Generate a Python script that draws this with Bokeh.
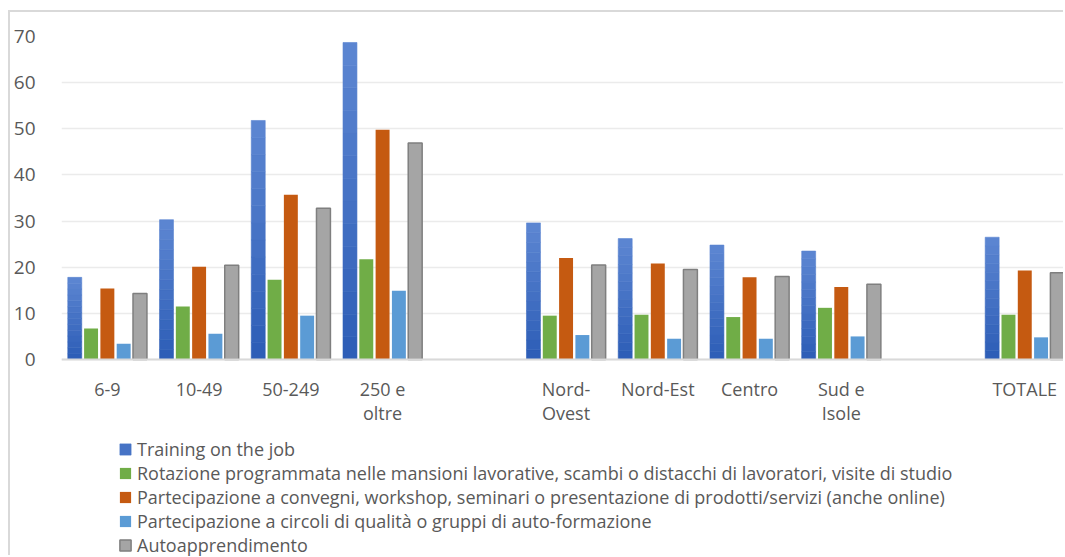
from bokeh.plotting import figure
from bokeh.models import Range1d, FixedTicker, Legend, LegendItem, ColumnDataSource, LinearAxis
from bokeh.embed import file_html
from bokeh.resources import INLINE

categories = ["6-9", "10-49", "50-249", "250 e\noltre", "", "Nord-\nOvest",
              "Nord-Est", "Centro", "Sud e\nIsole", "", "TOTALE"]
training = [17.8, 30.3, 51.8, 68.7, None, 29.6, 26.2, 24.8, 23.5, None, 26.5]
rotazione = [6.7, 11.5, 17.3, 21.7, None, 9.5, 9.7, 9.2, 11.2, None, 9.7]
convegni = [15.4, 20.1, 35.7, 49.8, None, 22.0, 20.8, 17.8, 15.7, None, 19.3]
circoli = [3.4, 5.6, 9.5, 14.9, None, 5.3, 4.5, 4.5, 5.0, None, 4.8]
autoappr = [14.3, 20.4, 32.8, 46.9, None, 20.5, 19.5, 18.0, 16.3, None, 18.8]

series_names = [
    "Training on the job",
    "Rotazione programmata nelle mansioni lavorative, scambi o distacchi di lavoratori, visite di studio",
    "Partecipazione a convegni, workshop, seminari o presentazione di prodotti/servizi (anche online)",
    "Partecipazione a circoli di qualità o gruppi di auto-formazione",
    "Autoapprendimento",
]
series_values = [training, rotazione, convegni, circoli, autoappr]
fills = ["#4472C4", "#70AD47", "#C55A11", "#5B9BD5", "#A5A5A5"]
lines = ["#4472C4", "#70AD47", "#C55A11", "#5B9BD5", "#7F7F7F"]
line_w = [0, 0, 0, 0, 1.5]

FONT = "Open Sans"
TXT = "#595959"

# frame: y=70 at 24px from canvas top, y=0 at 347px, canvas bottom at 545px
PX_PER_UNIT = (347 - 24) / 70.0
Y_START = -(545 - 347) / PX_PER_UNIT

p = figure(width=1055, height=545, output_backend="svg", toolbar_location=None,
           x_range=Range1d(-0.5, 10.444), y_range=Range1d(Y_START, 70),
           x_axis_location=None,
           min_border_left=46, min_border_right=0, min_border_top=24,
           min_border_bottom=0)
p.styles = {"margin-left": "8px", "margin-top": "10px",
            "border-top": "2px solid #d9d9d9", "border-left": "2px solid #d9d9d9"}
p.outline_line_color = None
p.background_fill_color = "white"
p.border_fill_color = "white"

offsets = [-0.3554, -0.1777, 0.0, 0.1777, 0.3554]
BW = 0.152


def lerp_color(c1, c2, t):
    a = [int(c1[i:i + 2], 16) for i in (1, 3, 5)]
    b = [int(c2[i:i + 2], 16) for i in (1, 3, 5)]
    return "#%02x%02x%02x" % tuple(round(a[k] + (b[k] - a[k]) * t) for k in range(3))


renderers = []
for si, (name, vals, fc, lc, lw, off) in enumerate(zip(series_names, series_values, fills, lines, line_w, offsets)):
    xs = [i + off for i, v in enumerate(vals) if v is not None]
    ys = [v for v in vals if v is not None]
    if si == 0:
        # blue bars with vertical gradient (dark bottom -> light top)
        N = 14
        legend_r = None
        for k in range(N):
            col = lerp_color("#2c5cb6", "#5d87d2", (k + 0.5) / N)
            src = ColumnDataSource(dict(x=xs, bottom=[v * k / N for v in ys],
                                        top=[v * (k + 1) / N for v in ys]))
            r = p.vbar(x="x", top="top", bottom="bottom", width=BW, source=src,
                       fill_color=col, line_color=col, line_width=0.6)
            if k == N // 2:
                legend_r = r
        renderers.append(legend_r)
    else:
        src = ColumnDataSource(dict(x=xs, top=ys))
        r = p.vbar(x="x", top="top", bottom=0, width=BW, source=src,
                   fill_color=fc, line_color=lc if lw else None, line_width=lw if lw else 1)
        renderers.append(r)

tick_pos = [i for i, c in enumerate(categories) if c]
xaxis = LinearAxis(fixed_location=0, ticker=FixedTicker(ticks=tick_pos),
                   major_label_overrides={i: categories[i] for i in tick_pos})
xaxis.major_tick_line_color = None
xaxis.minor_tick_line_color = None
xaxis.axis_line_color = "#d9d9d9"
xaxis.axis_line_width = 2
xaxis.major_label_text_font = FONT
xaxis.major_label_text_font_size = "18px"
xaxis.major_label_text_color = TXT
xaxis.major_label_standoff = 11
xaxis.major_label_text_line_height = 1.02
p.add_layout(xaxis, "below")

p.yaxis.ticker = FixedTicker(ticks=list(range(0, 71, 10)))
p.yaxis.axis_line_color = None
p.yaxis.major_tick_line_color = None
p.yaxis.minor_tick_line_color = None
p.yaxis.major_label_text_font = FONT
p.yaxis.major_label_text_font_size = "19px"
p.yaxis.major_label_text_color = TXT
p.yaxis.major_label_standoff = 20

for g in p.xgrid:
    g.grid_line_color = None
    g.visible = False
p.ygrid.grid_line_color = "#ebebeb"
p.ygrid.grid_line_width = 1.5

legend = Legend(items=[LegendItem(label=n, renderers=[r]) for n, r in zip(series_names, renderers)],
                location=(57, 0), orientation="vertical",
                label_text_font=FONT, label_text_font_size="18px", label_text_color=TXT,
                glyph_width=14, glyph_height=14, label_standoff=5, label_height=21,
                spacing=0, padding=0, margin=0, border_line_color=None,
                background_fill_alpha=0)
p.add_layout(legend, "center")

open("out.html", "w").write(file_html(p, INLINE))
